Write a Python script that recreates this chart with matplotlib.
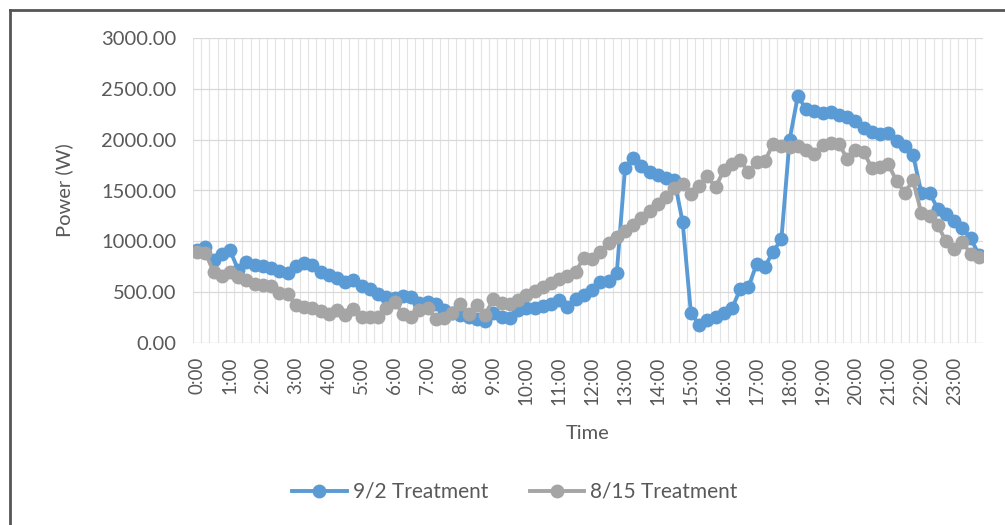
import numpy as np
import matplotlib.pyplot as plt
from matplotlib.lines import Line2D

# 15-minute intervals, 0:00 .. 23:45
times = [f"{h}:{m:02d}" for h in range(24) for m in (0, 15, 30, 45)]

treat_92 = [
    910, 940, 820, 880, 910, 720, 800, 770, 760, 740, 710, 690,
    760, 790, 770, 700, 670, 640, 600, 620, 560, 530, 480, 450,
    440, 460, 450, 390, 400, 380, 320, 300, 280, 260, 240, 220,
    300, 260, 250, 320, 340, 340, 360, 380, 420, 350, 430, 470,
    520, 600, 610, 690, 1720, 1820, 1740, 1680, 1650, 1620, 1600, 1190,
    300, 180, 230, 260, 300, 340, 530, 550, 780, 750, 900, 1020,
    2000, 2430, 2300, 2280, 2260, 2270, 2240, 2220, 2180, 2110, 2080, 2060,
    2070, 1990, 1940, 1850, 1480, 1480, 1320, 1270, 1200, 1130, 1030, 870,
]

treat_815 = [
    900, 890, 700, 660, 700, 650, 620, 580, 570, 560, 490, 480,
    370, 350, 340, 310, 290, 320, 280, 330, 260, 260, 260, 340,
    400, 290, 260, 320, 340, 240, 250, 300, 380, 290, 370, 280,
    430, 390, 380, 420, 470, 510, 550, 590, 630, 660, 700, 840,
    830, 900, 980, 1040, 1100, 1160, 1230, 1300, 1370, 1440, 1520, 1560,
    1470, 1540, 1640, 1530, 1700, 1760, 1800, 1680, 1780, 1790, 1960, 1940,
    1930, 1940, 1900, 1860, 1950, 1970, 1960, 1810, 1900, 1880, 1720, 1730,
    1760, 1590, 1480, 1600, 1280, 1250, 1160, 1000, 920, 990, 880, 850,
]

BLUE = '#5B9BD5'
GREY = '#A5A5A5'
TXT = '#595959'

plt.rcParams['font.family'] = ['Lato', 'DejaVu Sans']

fig = plt.figure(figsize=(10.05, 5.25), dpi=100)
ax = fig.add_axes([193 / 1005, 1 - 343 / 525, (983 - 193) / 1005, (343 - 38) / 525])

x = np.arange(len(times))
ax.plot(x, treat_92, color=BLUE, lw=2.8, marker='o', ms=9, zorder=2)
ax.plot(x, treat_815, color=GREY, lw=2.8, marker='o', ms=9, zorder=3)

ax.set_xlim(-0.5, len(times) - 0.5)
ax.set_ylim(0, 3000)
ax.set_yticks(np.arange(0, 3001, 500))
ax.set_yticklabels([f"{v:.2f}" for v in range(0, 3001, 500)])

# vertical grid lines between every category
for b in np.arange(-0.5, len(times), 1.0):
    ax.axvline(b, color='#E3E3E3', lw=0.8, zorder=0)
for v in range(500, 3001, 500):
    ax.axhline(v, color='#D9D9D9', lw=0.9, zorder=0)
ax.axhline(0, color='#D9D9D9', lw=1.0, zorder=1)

hour_idx = x[::4]
ax.set_xticks(hour_idx)
ax.set_xticklabels([times[i] for i in hour_idx], rotation=90)
ax.tick_params(axis='x', length=0, colors=TXT, labelsize=13.5, pad=10)
ax.tick_params(axis='y', length=0, colors=TXT, labelsize=14.5, pad=12)

for s in ax.spines.values():
    s.set_visible(False)

ax.set_xlabel('Time', color=TXT, fontsize=14.5, labelpad=14)
ax.set_ylabel('Power (W)', color=TXT, fontsize=14.5, labelpad=20)

handles = [
    Line2D([], [], color=BLUE, lw=2.8, marker='o', ms=9),
    Line2D([], [], color=GREY, lw=2.8, marker='o', ms=9),
]
fig.legend(handles, ['9/2 Treatment', '8/15 Treatment'], loc='center',
           bbox_to_anchor=(515 / 1005, 1 - 492 / 525), ncol=2, frameon=False,
           fontsize=15, labelcolor=TXT, handlelength=2.6, handletextpad=0.3,
           columnspacing=2.0)

# outer chart border (left and top edges visible)
fig.add_artist(Line2D([10 / 1005, 10 / 1005], [0, 1 - 10 / 525], color='#555555', lw=2))
fig.add_artist(Line2D([10 / 1005, 1], [1 - 10 / 525, 1 - 10 / 525], color='#555555', lw=2))

fig.savefig('out.png', dpi=100, facecolor='white')
